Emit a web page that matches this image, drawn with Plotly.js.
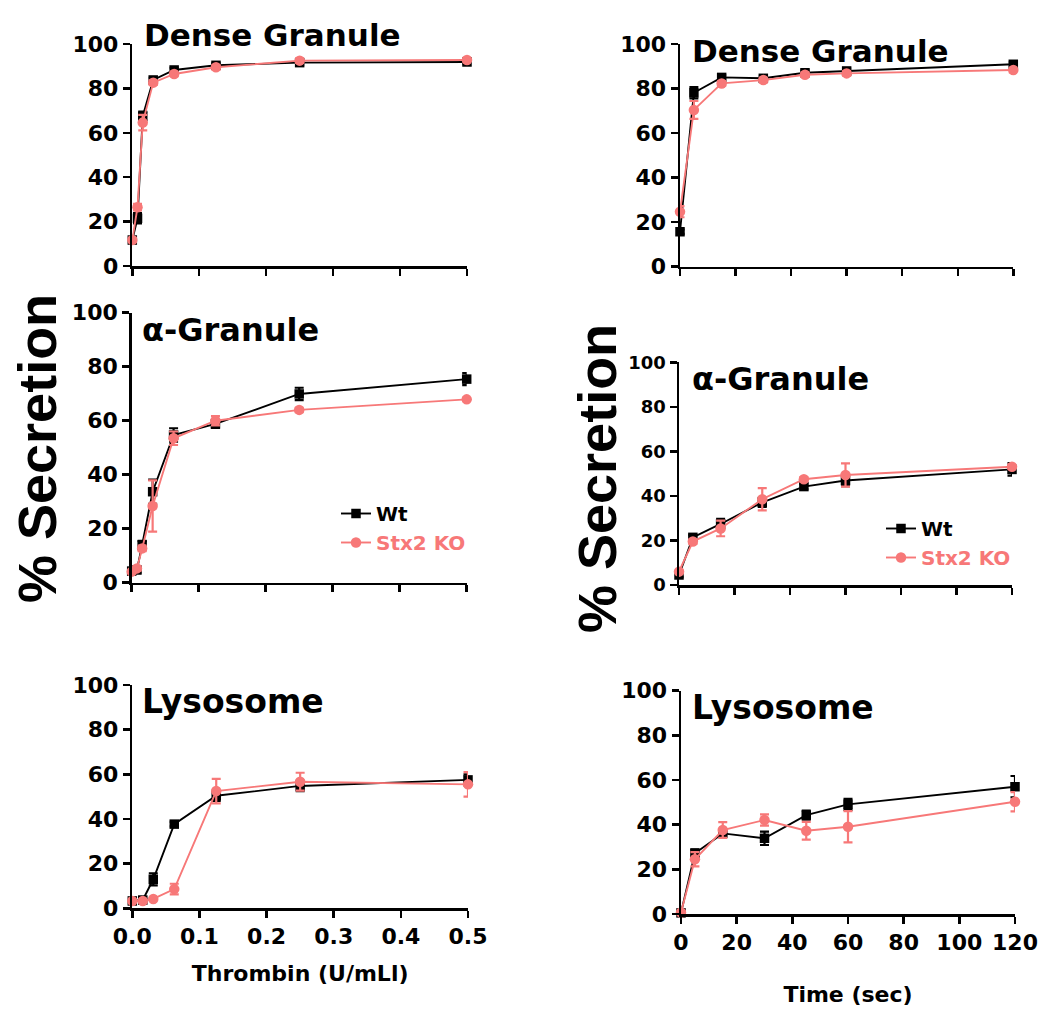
<!DOCTYPE html>
<html>
<head>
<meta charset="utf-8">
<script src="https://cdn.plot.ly/plotly-3.0.1.min.js"></script>
<style>html,body{margin:0;padding:0;background:#fff;}#chart{width:1046px;height:1015px;}</style>
</head>
<body>
<div id="chart"></div>
<script>
// ---------- DATA ----------
const seriesNames = ["Wt", "Stx2 KO"];
const panelTitles = ["Dense Granule", "α-Granule", "Lysosome", "Dense Granule", "α-Granule", "Lysosome"];
const xTitleThrombin = "Thrombin (U/mLl)";
const xTitleTime = "Time (sec)";
const yTitle = "% Secretion";

// Thrombin dose (U/mL)
const thrombinX8 = [0, 0.0078, 0.0156, 0.03125, 0.0625, 0.125, 0.25, 0.5];
const thrombinX7 = [0, 0.0156, 0.03125, 0.0625, 0.125, 0.25, 0.5];
// Time (sec)
const timeX = [0, 5, 15, 30, 45, 60, 120];

// Dense granule vs thrombin
const denseThrWt    = [11.7, 21.5, 67.5, 83.8, 88.3, 90.4, 91.6, 91.9];
const denseThrWtErr = [1.0, 2.3, 2.0, 1.0, 1.0, 1.0, 1.0, 1.0];
const denseThrKo    = [11.7, 26.5, 64.6, 82.6, 86.5, 89.5, 92.5, 92.8];
const denseThrKoErr = [1.0, 1.5, 3.5, 1.0, 1.0, 1.0, 1.0, 1.0];

// Alpha granule vs thrombin
const alphaThrWt    = [4.3, 4.7, 14.0, 33.7, 54.7, 58.8, 69.9, 75.4];
const alphaThrWtErr = [0.8, 1.0, 1.5, 4.5, 2.5, 1.5, 2.3, 2.2];
const alphaThrKo    = [4.1, 5.3, 12.7, 28.4, 53.5, 60.0, 64.0, 67.9];
const alphaThrKoErr = [0.5, 0.8, 1.0, 9.5, 2.5, 1.7, 0.8, 0.7];

// Lysosome vs thrombin
const lysoThrWt    = [3.3, 3.7, 13.0, 37.7, 50.4, 54.8, 57.5];
const lysoThrWtErr = [0.5, 0.5, 2.7, 1.0, 2.3, 2.3, 2.5];
const lysoThrKo    = [3.3, 3.3, 4.2, 8.6, 52.5, 56.7, 55.5];
const lysoThrKoErr = [0.5, 0.5, 0.5, 2.4, 5.5, 4.0, 5.5];

// Dense granule vs time
const denseTimeWt    = [15.7, 78.1, 85.0, 84.6, 87.1, 87.9, 90.9];
const denseTimeWtErr = [1.0, 2.5, 1.0, 1.0, 1.0, 1.0, 1.0];
const denseTimeKo    = [24.7, 70.4, 82.3, 83.8, 86.2, 86.8, 88.3];
const denseTimeKoErr = [2.5, 4.0, 1.0, 1.0, 1.0, 1.0, 1.0];

// Alpha granule vs time
const alphaTimeWt    = [4.5, 21.4, 27.4, 37.1, 44.2, 46.9, 51.9];
const alphaTimeWtErr = [1.0, 1.0, 2.3, 2.0, 1.2, 2.5, 2.8];
const alphaTimeKo    = [6.0, 19.5, 25.4, 38.5, 47.5, 49.4, 53.1];
const alphaTimeKoErr = [0.8, 1.0, 3.5, 5.0, 1.0, 5.2, 1.0];

// Lysosome vs time
const lysoTimeWt    = [0.5, 27.2, 36.1, 33.9, 44.3, 49.1, 57.0];
const lysoTimeWtErr = [0.5, 1.7, 1.0, 3.0, 2.0, 2.5, 4.8];
const lysoTimeKo    = [0.7, 24.5, 37.6, 42.1, 37.3, 39.1, 50.3];
const lysoTimeKoErr = [0.5, 3.2, 3.5, 2.5, 4.0, 7.0, 4.3];

// ---------- STYLE / LAYOUT ----------
const W = 1046, H = 1015;
const fx = p => p / W;
const fy = p => 1 - p / H;
const BLACK = "#000000";
const RED = "#F77878";
const FONT = "DejaVu Sans";

function wtTrace(x, y, e, ax, legendName) {
  return {
    x: x, y: y, xaxis: "x" + ax, yaxis: "y" + ax, type: "scatter", mode: "lines+markers",
    name: seriesNames[0], cliponaxis: false,
    line: {color: BLACK, width: 1.9},
    marker: {symbol: "square", size: 9.5, color: BLACK},
    error_y: {type: "data", array: e, visible: true, color: BLACK, thickness: 2.2, width: 4.5},
    showlegend: !!legendName, legend: legendName || "legend"
  };
}
function koTrace(x, y, e, ax, legendName) {
  return {
    x: x, y: y, xaxis: "x" + ax, yaxis: "y" + ax, type: "scatter", mode: "lines+markers",
    name: '<span style="color:' + RED + '">' + seriesNames[1] + '</span>', cliponaxis: false,
    line: {color: RED, width: 1.9},
    marker: {symbol: "circle", size: 10.5, color: RED},
    error_y: {type: "data", array: e, visible: true, color: RED, thickness: 2.2, width: 4.5},
    showlegend: !!legendName, legend: legendName || "legend"
  };
}

const data = [
  wtTrace(thrombinX8, denseThrWt, denseThrWtErr, 1), koTrace(thrombinX8, denseThrKo, denseThrKoErr, 1),
  wtTrace(thrombinX8, alphaThrWt, alphaThrWtErr, 2, "legend"), koTrace(thrombinX8, alphaThrKo, alphaThrKoErr, 2, "legend"),
  wtTrace(thrombinX7, lysoThrWt, lysoThrWtErr, 3), koTrace(thrombinX7, lysoThrKo, lysoThrKoErr, 3),
  wtTrace(timeX, denseTimeWt, denseTimeWtErr, 4), koTrace(timeX, denseTimeKo, denseTimeKoErr, 4),
  wtTrace(timeX, alphaTimeWt, alphaTimeWtErr, 5, "legend2"), koTrace(timeX, alphaTimeKo, alphaTimeKoErr, 5, "legend2"),
  wtTrace(timeX, lysoTimeWt, lysoTimeWtErr, 6), koTrace(timeX, lysoTimeKo, lysoTimeKoErr, 6)
];

function xAxis(domain, range, dtick, fmt, showLabels, titleText, standoff) {
  const a = {
    domain: domain, range: range, dtick: dtick, tick0: 0, tickformat: fmt,
    showline: true, linecolor: BLACK, linewidth: 2.5, mirror: false,
    ticks: "outside", ticklen: 7, tickwidth: 2.5, tickcolor: BLACK,
    showgrid: false, zeroline: false, showticklabels: showLabels, fixedrange: true,
    tickfont: {family: FONT, size: 22, color: BLACK, weight: "bold"}
  };
  if (titleText) {
    a.title = {text: titleText, font: {family: FONT, size: 22, color: BLACK, weight: "bold"}, standoff: standoff};
  }
  return a;
}
function yAxis(domain, anchor, fontSize) {
  return {
    domain: domain, range: [0, 100], dtick: 20, tick0: 0, anchor: anchor,
    showline: true, linecolor: BLACK, linewidth: 2.5,
    ticks: "outside", ticklen: 7, tickwidth: 2.5, tickcolor: BLACK,
    showgrid: false, zeroline: false, fixedrange: true,
    tickfont: {family: FONT, size: fontSize, color: BLACK, weight: "bold"}
  };
}

const panels = [
  {x: [132.3, 467.0], y: [266.0, 44.0]},
  {x: [131.7, 466.7], y: [582.7, 312.7]},
  {x: [132.3, 468.0], y: [908.3, 685.0]},
  {x: [680.0, 1013.3], y: [266.7, 44.0]},
  {x: [679.0, 1012.0], y: [585.0, 362.3]},
  {x: [681.0, 1015.0], y: [914.0, 690.7]}
];
const xd = i => [fx(panels[i].x[0]), fx(panels[i].x[1])];
const yd = i => [fy(panels[i].y[0]), fy(panels[i].y[1])];

const layout = {
  width: W, height: H,
  margin: {l: 0, r: 0, t: 0, b: 0},
  paper_bgcolor: "#ffffff", plot_bgcolor: "rgba(0,0,0,0)",
  font: {family: FONT, color: BLACK},
  xaxis:  Object.assign(xAxis(xd(0), [0, 0.5], 0.1, ".1f", false), {anchor: "y"}),
  yaxis:  yAxis(yd(0), "x", 22),
  xaxis2: Object.assign(xAxis(xd(1), [0, 0.5], 0.1, ".1f", false), {anchor: "y2"}),
  yaxis2: yAxis(yd(1), "x2", 22),
  xaxis3: Object.assign(xAxis(xd(2), [0, 0.5], 0.1, ".1f", true, xTitleThrombin, 18), {anchor: "y3"}),
  yaxis3: yAxis(yd(2), "x3", 22),
  xaxis4: Object.assign(xAxis(xd(3), [0, 120], 20, "d", false), {anchor: "y4"}),
  yaxis4: yAxis(yd(3), "x4", 22),
  xaxis5: Object.assign(xAxis(xd(4), [0, 120], 20, "d", false), {anchor: "y5"}),
  yaxis5: yAxis(yd(4), "x5", 18),
  xaxis6: Object.assign(xAxis(xd(5), [0, 120], 20, "d", true, xTitleTime, 33), {anchor: "y6"}),
  yaxis6: yAxis(yd(5), "x6", 22),
  legend: {
    x: fx(336), y: fy(494), xanchor: "left", yanchor: "top",
    bgcolor: "rgba(0,0,0,0)", borderwidth: 0, tracegroupgap: 0, itemwidth: 30,
    font: {family: FONT, size: 20, color: BLACK, weight: "bold"}
  },
  legend2: {
    x: fx(881), y: fy(509), xanchor: "left", yanchor: "top",
    bgcolor: "rgba(0,0,0,0)", borderwidth: 0, tracegroupgap: 0, itemwidth: 30,
    font: {family: FONT, size: 20, color: BLACK, weight: "bold"}
  },
  showlegend: true,
  annotations: []
};

const titlePos = [
  {x: 142, y: 35, s: 31}, {x: 140, y: 330, s: 32}, {x: 140, y: 701, s: 33},
  {x: 690, y: 51, s: 31}, {x: 690, y: 379, s: 32}, {x: 690, y: 707, s: 33}
];
titlePos.forEach((p, i) => {
  layout.annotations.push({
    text: panelTitles[i], xref: "paper", yref: "paper", x: fx(p.x), y: fy(p.y),
    xanchor: "left", yanchor: "middle", showarrow: false,
    font: {family: FONT, size: p.s, color: BLACK, weight: "bold"}
  });
});
[{x: 37, y: 449}, {x: 597, y: 479}].forEach(p => {
  layout.annotations.push({
    text: yTitle, xref: "paper", yref: "paper", x: fx(p.x), y: fy(p.y),
    xanchor: "center", yanchor: "middle", textangle: -90, showarrow: false,
    font: {family: "Liberation Sans", size: 54, color: BLACK, weight: "bold"}
  });
});

Plotly.newPlot("chart", data, layout, {displayModeBar: false, staticPlot: true});
</script>
</body>
</html>
